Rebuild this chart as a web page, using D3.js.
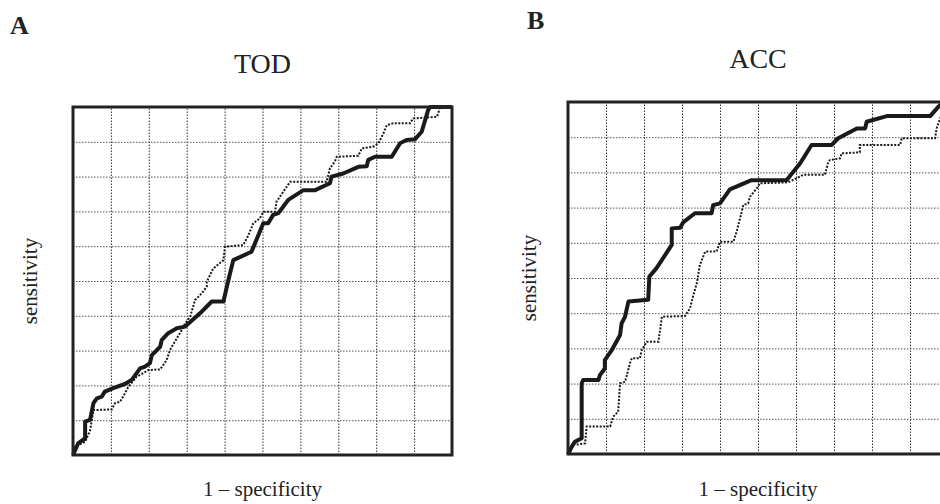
<!DOCTYPE html>
<html>
<head>
<meta charset="utf-8">
<script src="https://cdn.jsdelivr.net/npm/d3@7"></script>
<style>
  body { margin: 0; background: #fff; }
  svg { display: block; }
  text { font-family: "Liberation Serif", "Times New Roman", serif; fill: #222; }
</style>
</head>
<body>
<div id="chart"></div>
<script>
// ROC curves, [1 - specificity, sensitivity]
const todSolid = [
  [0, 0], [0.014, 0.034], [0.032, 0.048], [0.032, 0.096], [0.045, 0.101], [0.054, 0.149],
  [0.063, 0.163], [0.076, 0.168], [0.084, 0.182], [0.106, 0.192], [0.137, 0.204], [0.155, 0.216],
  [0.177, 0.249], [0.19, 0.254], [0.203, 0.264], [0.208, 0.287], [0.23, 0.311], [0.234, 0.33],
  [0.251, 0.35], [0.274, 0.364], [0.296, 0.369], [0.335, 0.407], [0.366, 0.441], [0.397, 0.441],
  [0.41, 0.503], [0.423, 0.56], [0.471, 0.584], [0.502, 0.666], [0.515, 0.666], [0.528, 0.69],
  [0.542, 0.695], [0.555, 0.714], [0.568, 0.733], [0.608, 0.761], [0.639, 0.761], [0.678, 0.781],
  [0.682, 0.8], [0.713, 0.809], [0.753, 0.828], [0.775, 0.83], [0.779, 0.848], [0.797, 0.857],
  [0.841, 0.857], [0.863, 0.896], [0.88, 0.905], [0.902, 0.907], [0.92, 0.929], [0.937, 0.991],
  [0.942, 1], [1, 1]
];
const todDashed = [
  [0, 0], [0.005, 0.024], [0.032, 0.038], [0.045, 0.07], [0.054, 0.129], [0.102, 0.131],
  [0.111, 0.149], [0.124, 0.153], [0.137, 0.177], [0.146, 0.196], [0.168, 0.225], [0.199, 0.244],
  [0.23, 0.246], [0.247, 0.273], [0.256, 0.302], [0.269, 0.326], [0.282, 0.35], [0.296, 0.378],
  [0.309, 0.397], [0.322, 0.445], [0.34, 0.465], [0.353, 0.484], [0.353, 0.498], [0.37, 0.536],
  [0.397, 0.56], [0.401, 0.599], [0.449, 0.603], [0.463, 0.632], [0.476, 0.666], [0.493, 0.68],
  [0.502, 0.699], [0.533, 0.699], [0.537, 0.728], [0.555, 0.757], [0.573, 0.785], [0.669, 0.785],
  [0.678, 0.824], [0.691, 0.843], [0.696, 0.857], [0.753, 0.86], [0.762, 0.881], [0.792, 0.886],
  [0.806, 0.896], [0.819, 0.924], [0.828, 0.948], [0.845, 0.953], [0.889, 0.953], [0.898, 0.967],
  [0.96, 0.972], [0.964, 0.982], [0.968, 1], [1, 1]
];
const accSolid = [
  [0, 0], [0.01, 0.021], [0.018, 0.035], [0.036, 0.045], [0.036, 0.201], [0.04, 0.21],
  [0.08, 0.21], [0.084, 0.224], [0.097, 0.243], [0.097, 0.267], [0.115, 0.295], [0.137, 0.338],
  [0.141, 0.371], [0.15, 0.39], [0.159, 0.433], [0.211, 0.438], [0.214, 0.504], [0.233, 0.528],
  [0.273, 0.594], [0.273, 0.641], [0.295, 0.643], [0.303, 0.658], [0.334, 0.684], [0.378, 0.684],
  [0.382, 0.707], [0.4, 0.712], [0.426, 0.752], [0.483, 0.778], [0.575, 0.778], [0.611, 0.826],
  [0.641, 0.878], [0.694, 0.878], [0.711, 0.897], [0.76, 0.925], [0.782, 0.925], [0.786, 0.944],
  [0.839, 0.96], [0.953, 0.96], [0.975, 0.987], [0.99, 1], [1, 1]
];
const accDashed = [
  [0, 0], [0.005, 0.007], [0.014, 0.026], [0.045, 0.03], [0.049, 0.078], [0.111, 0.078],
  [0.119, 0.106], [0.132, 0.12], [0.137, 0.201], [0.15, 0.205], [0.154, 0.22], [0.163, 0.258],
  [0.168, 0.272], [0.189, 0.272], [0.194, 0.295], [0.207, 0.319], [0.238, 0.319], [0.247, 0.39],
  [0.308, 0.392], [0.321, 0.414], [0.33, 0.452], [0.339, 0.485], [0.347, 0.537], [0.361, 0.575],
  [0.391, 0.575], [0.4, 0.603], [0.435, 0.603], [0.444, 0.632], [0.457, 0.688], [0.461, 0.707],
  [0.474, 0.712], [0.479, 0.731], [0.497, 0.755], [0.505, 0.769], [0.58, 0.772], [0.619, 0.793],
  [0.676, 0.793], [0.685, 0.83], [0.689, 0.835], [0.716, 0.84], [0.72, 0.854], [0.768, 0.857],
  [0.768, 0.878], [0.874, 0.878], [0.878, 0.897], [0.966, 0.897], [0.97, 0.925], [0.985, 0.97],
  [1, 1]
];

const gridTicks = d3.range(0.1, 1, 0.1);

const panels = [
  { letter: 'A', title: 'TOD', solid: todSolid, dashed: todDashed,
    left: 73, right: 452, top: 107, bottom: 455, letterX: 10, letterY: 34, titleY: 73, yLabelX: 37 },
  { letter: 'B', title: 'ACC', solid: accSolid, dashed: accDashed,
    left: 568, right: 948, top: 102, bottom: 454, letterX: 527, letterY: 29, titleY: 68, yLabelX: 536 }
];

const svg = d3.select('#chart').append('svg')
  .attr('width', 940)
  .attr('height', 504);

svg.append('rect').attr('width', 940).attr('height', 504).attr('fill', '#fff');

panels.forEach(p => {
  const x = d3.scaleLinear().domain([0, 1]).range([p.left, p.right]);
  const y = d3.scaleLinear().domain([0, 1]).range([p.bottom, p.top]);
  const g = svg.append('g');

  // dotted grid
  g.append('g')
    .attr('transform', `translate(0,${p.bottom})`)
    .call(d3.axisBottom(x).tickValues(gridTicks).tickSize(-(p.bottom - p.top)).tickFormat(''))
    .call(a => a.select('.domain').remove())
    .call(a => a.selectAll('line').attr('stroke', '#333').attr('stroke-dasharray', '1.5,1.5'));

  g.append('g')
    .attr('transform', `translate(${p.left},0)`)
    .call(d3.axisLeft(y).tickValues(gridTicks).tickSize(-(p.right - p.left)).tickFormat(''))
    .call(a => a.select('.domain').remove())
    .call(a => a.selectAll('line').attr('stroke', '#555').attr('stroke-dasharray', '1.5,1.5'));

  const line = d3.line().x(d => x(d[0])).y(d => y(d[1]));

  g.append('path')
    .attr('d', line(p.dashed))
    .attr('fill', 'none')
    .attr('stroke', '#1a1a1a')
    .attr('stroke-width', 2)
    .attr('stroke-dasharray', '2,1.5');

  g.append('path')
    .attr('d', line(p.solid))
    .attr('fill', 'none')
    .attr('stroke', '#1a1a1a')
    .attr('stroke-width', 4)
    .attr('stroke-linejoin', 'round');

  // frame
  g.append('rect')
    .attr('x', p.left).attr('y', p.top)
    .attr('width', p.right - p.left).attr('height', p.bottom - p.top)
    .attr('fill', 'none')
    .attr('stroke', '#222')
    .attr('stroke-width', 3);

  const cx = (p.left + p.right) / 2;
  const cy = (p.top + p.bottom) / 2;

  svg.append('text')
    .attr('x', p.letterX).attr('y', p.letterY)
    .attr('font-size', 26).attr('font-weight', 'bold')
    .text(p.letter);

  svg.append('text')
    .attr('x', cx).attr('y', p.titleY)
    .attr('text-anchor', 'middle')
    .attr('font-size', 28)
    .text(p.title);

  svg.append('text')
    .attr('transform', `translate(${p.yLabelX},${cy}) rotate(-90)`)
    .attr('text-anchor', 'middle')
    .attr('font-size', 21)
    .text('sensitivity');

  svg.append('text')
    .attr('x', cx).attr('y', 496)
    .attr('text-anchor', 'middle')
    .attr('font-size', 21)
    .text('1 \u2013 specificity');
});
</script>
</body>
</html>
